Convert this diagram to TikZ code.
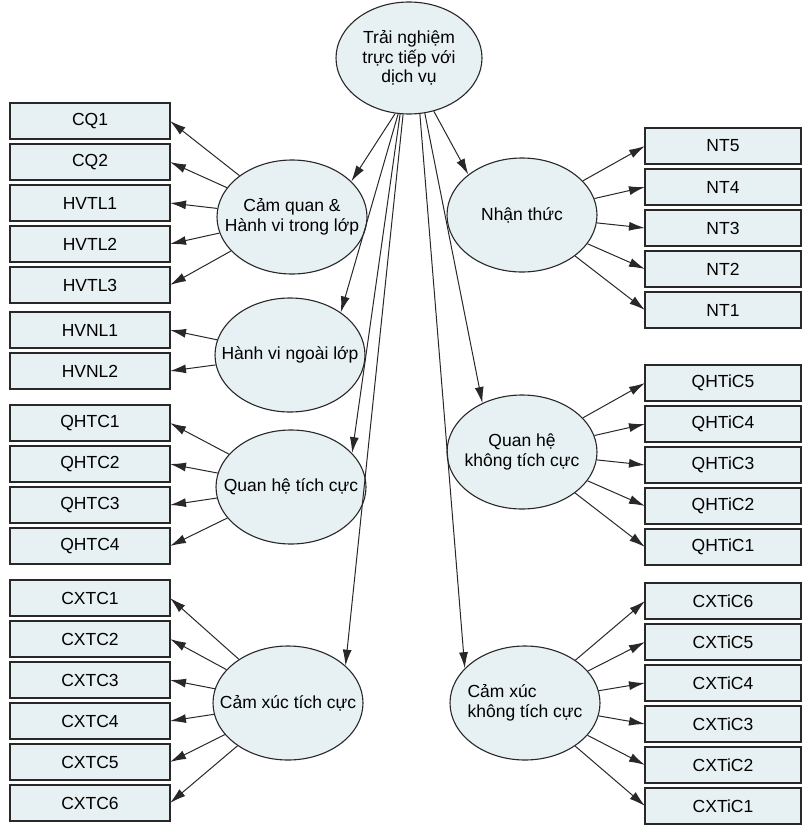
\documentclass[tikz,border=0pt]{standalone}
\usepackage{fontspec}
\setmainfont{Liberation Sans}
\usetikzlibrary{positioning,shapes.geometric,arrows.meta}
\definecolor{boxfill}{RGB}{231,240,243}
\definecolor{inkgray}{RGB}{40,40,40}

\begin{document}
\begin{tikzpicture}[x=1pt,y=-1pt,
  font=\fontsize{17.5}{19.5}\selectfont,
  node distance=5pt,
  obs/.style={draw=inkgray, line width=1.5pt, fill=boxfill, minimum width=160pt, minimum height=36pt, inner sep=0pt, outer sep=0pt},
  robs/.style={obs, minimum width=156pt},
  lat/.style={ellipse, draw=inkgray, line width=1.1pt, fill=boxfill, minimum width=150pt, minimum height=114pt, inner sep=0pt},
  load/.style={draw=inkgray, line width=1pt, -{Latex[length=16pt,width=9pt]}}
]
  \useasboundingbox (0,0) rectangle (802,827);

  \node[lat, minimum width=146pt, minimum height=112pt,
        label={[align=center]center:Trải nghiệm\\trực tiếp với\\dịch vụ}] (tn) at (409,58) {};

  \node[lat, label={[align=center]center:Cảm quan \&\\Hành vi trong lớp}] (cq) at (292,217) {};
  \node[lat, label={center:Hành vi ngoài lớp}] (hvnl) at (290,355) {};
  \node[lat, label={center:Quan hệ tích cực}] (qhtc) at (291,487) {};
  \node[lat, label={center:Cảm xúc tích cực}] (cxtc) at (288,703) {};
  \node[lat, label={center:Nhận thức}] (nt) at (522,215) {};
  \node[lat, label={[align=center]center:Quan hệ\\không tích cực}] (qhtic) at (522,452) {};
  \node[lat, label={[align=left]center:Cảm xúc\\không tích cực}] (cxtic) at (525,703) {};

  \node[obs] (cq1) at (90,121) {CQ1};
  \node[obs, below=of cq1] (cq2) {CQ2};
  \node[obs, below=of cq2] (hvtl1) {HVTL1};
  \node[obs, below=of hvtl1] (hvtl2) {HVTL2};
  \node[obs, below=of hvtl2] (hvtl3) {HVTL3};
  \node[obs, below=9pt of hvtl3] (hvnl1) {HVNL1};
  \node[obs, below=of hvnl1] (hvnl2) {HVNL2};
  \node[obs, below=16pt of hvnl2] (qhtc1) {QHTC1};
  \node[obs, below=of qhtc1] (qhtc2) {QHTC2};
  \node[obs, below=of qhtc2] (qhtc3) {QHTC3};
  \node[obs, below=of qhtc3] (qhtc4) {QHTC4};
  \node[obs, below=16pt of qhtc4] (cxtc1) {CXTC1};
  \node[obs, below=of cxtc1] (cxtc2) {CXTC2};
  \node[obs, below=of cxtc2] (cxtc3) {CXTC3};
  \node[obs, below=of cxtc3] (cxtc4) {CXTC4};
  \node[obs, below=of cxtc4] (cxtc5) {CXTC5};
  \node[obs, below=of cxtc5] (cxtc6) {CXTC6};

  \node[robs] (nt5) at (723,146) {NT5};
  \node[robs, below=of nt5] (nt4) {NT4};
  \node[robs, below=of nt4] (nt3) {NT3};
  \node[robs, below=of nt3] (nt2) {NT2};
  \node[robs, below=of nt2] (nt1) {NT1};
  \node[robs, below=37pt of nt1] (qhtic5) {QHTiC5};
  \node[robs, below=of qhtic5] (qhtic4) {QHTiC4};
  \node[robs, below=of qhtic4] (qhtic3) {QHTiC3};
  \node[robs, below=of qhtic3] (qhtic2) {QHTiC2};
  \node[robs, below=of qhtic2] (qhtic1) {QHTiC1};
  \node[robs, below=18pt of qhtic1] (cxtic6) {CXTiC6};
  \node[robs, below=of cxtic6] (cxtic5) {CXTiC5};
  \node[robs, below=of cxtic5] (cxtic4) {CXTiC4};
  \node[robs, below=of cxtic4] (cxtic3) {CXTiC3};
  \node[robs, below=of cxtic3] (cxtic2) {CXTiC2};
  \node[robs, below=of cxtic2] (cxtic1) {CXTiC1};

  \draw[load] (tn.-104) -- (cq.31);
  \draw[load] (tn.-101) -- (hvnl.40);
  \draw[load] (tn.-99) -- (qhtc.29);
  \draw[load] (tn.-96) -- (cxtc.33);
  \draw[load] (tn.-65) -- (nt.143);
  \draw[load] (tn.-74) -- (qhtic.129);
  \draw[load] (tn.-79) -- (cxtic.150);

  \foreach \b in {cq1,cq2,hvtl1,hvtl2,hvtl3}
    \draw[load] (cq) -- (\b.east);
  \foreach \b in {hvnl1,hvnl2}
    \draw[load] (hvnl) -- (\b.east);
  \foreach \b in {qhtc1,qhtc2,qhtc3,qhtc4}
    \draw[load] (qhtc) -- (\b.east);
  \foreach \b in {cxtc1,cxtc2,cxtc3,cxtc4,cxtc5,cxtc6}
    \draw[load] (cxtc) -- (\b.east);
  \foreach \b in {nt5,nt4,nt3,nt2,nt1}
    \draw[load] (nt) -- (\b.west);
  \foreach \b in {qhtic5,qhtic4,qhtic3,qhtic2,qhtic1}
    \draw[load] (qhtic) -- (\b.west);
  \foreach \b in {cxtic6,cxtic5,cxtic4,cxtic3,cxtic2,cxtic1}
    \draw[load] (cxtic) -- (\b.west);
\end{tikzpicture}
\end{document}
